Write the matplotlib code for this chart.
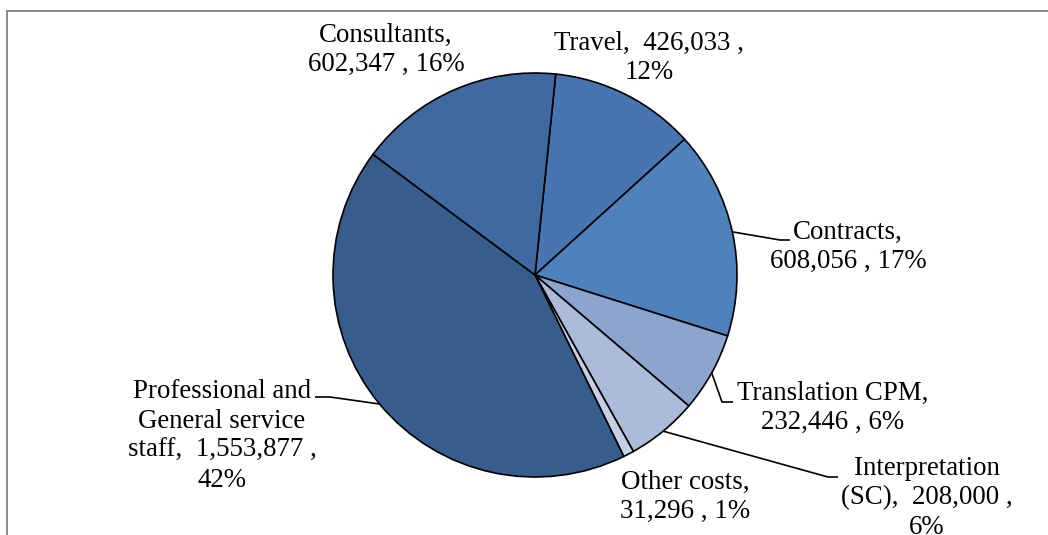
import matplotlib
matplotlib.use("Agg")
import matplotlib.pyplot as plt
import numpy as np
from matplotlib.patches import Rectangle

# ---- data ----
categories = ["Travel", "Contracts", "Translation CPM", "Interpretation (SC)",
              "Other costs", "Professional and General service staff", "Consultants"]
values = [426033, 608056, 232446, 208000, 31296, 1553877, 602347]
colors = ["#4675B1", "#4F81BD", "#8BA5CF", "#ABBBDA", "#C6D0E4", "#375D8C", "#3F69A0"]

total = sum(values)
pcts = [round(v / total * 100) for v in values]

# label text layout (line breaks as in the reference)
label_fmt = [
    "Travel,  {v} ,\n{p}%",
    "Contracts,\n{v} , {p}%",
    "Translation CPM,\n{v} , {p}%",
    "Interpretation\n(SC),  {v} ,\n{p}%",
    "Other costs,\n{v} , {p}%",
    "Professional and\nGeneral service\nstaff,  {v} ,\n{p}%",
    "Consultants,\n{v} , {p}%",
]
labels = [f.format(v=f"{v:,}", p=p) for f, v, p in zip(label_fmt, values, pcts)]

# ---- layout (pixel coords, y measured from top) ----
W, H = 1048, 535
cx, cy, R = 535, 275, 202
start_deg = 84.1
label_pos = [(649, 58), (848, 247), (833, 408), (927, 498), (685, 497), (222, 436), (386, 50)]
# leader elbows (None = no leader)
leaders = [None,
           [(780, 240), (790, 240)],
           [(722, 402), (733, 402)],
           [(828, 477), (838, 477)],
           None,
           [(330, 397), (315, 397)],
           None]

plt.rcParams['font.family'] = ['Liberation Serif', 'DejaVu Serif']

fig = plt.figure(figsize=(W / 100, H / 100), dpi=100)
ax = fig.add_axes([0, 0, 1, 1])

wedges, _ = ax.pie(values, colors=colors, startangle=start_deg, counterclock=False,
                   center=(cx, H - cy), radius=R,
                   wedgeprops=dict(edgecolor='black', linewidth=1.2))
ax.set_xlim(0, W)
ax.set_ylim(0, H)
ax.set_aspect('equal')
ax.axis('off')

fs = 19.4
for i, w in enumerate(wedges):
    tx, ty = label_pos[i]
    ax.text(tx, H - ty, labels[i], ha='center', va='center', fontsize=fs,
            linespacing=1.25, color='black')
    if leaders[i] is not None:
        mid = np.deg2rad((w.theta1 + w.theta2) / 2)
        sx = cx + R * np.cos(mid)
        sy = (H - cy) + R * np.sin(mid)
        xs = [sx] + [p[0] for p in leaders[i]]
        ys = [sy] + [H - p[1] for p in leaders[i]]
        ax.plot(xs, ys, color='black', linewidth=1.2, solid_capstyle='butt')

# chart frame (extends beyond the image at right and bottom)
fig.patches.append(Rectangle((7 / W, -0.1), 1.2, (H - 11) / H + 0.1,
                             transform=fig.transFigure, fill=False,
                             edgecolor='#8a8a8a', linewidth=1.4))

fig.savefig("out.png", dpi=100)
